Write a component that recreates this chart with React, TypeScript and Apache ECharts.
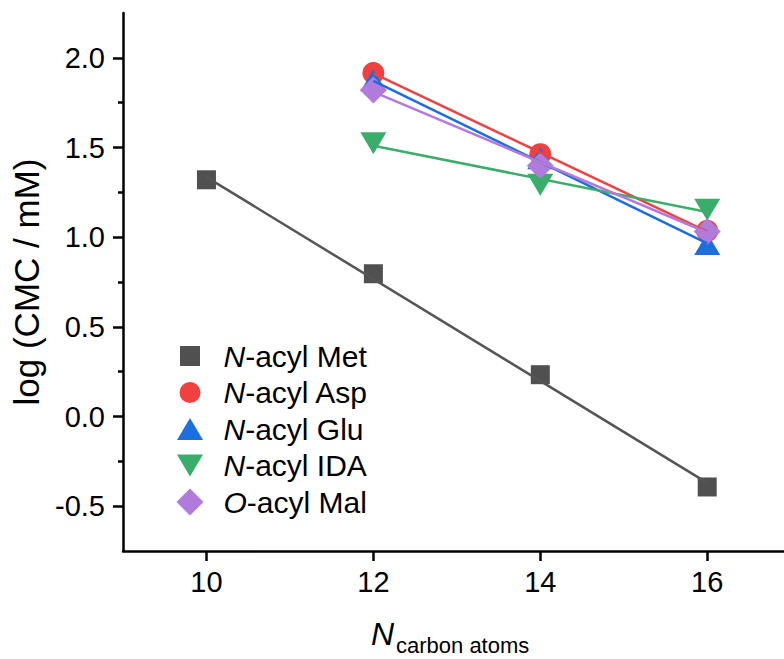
import React, { useEffect, useRef } from "react";
import * as echarts from "echarts";

// ---- data ----
const SERIES_NAMES = ["N-acyl Met", "N-acyl Asp", "N-acyl Glu", "N-acyl IDA", "O-acyl Mal"];
const X_MET = [10, 12, 14, 16];
const Y_MET = [1.32, 0.796, 0.233, -0.393];
const X_C = [12, 14, 16];
const Y_ASP = [1.915, 1.463, 1.035];
const Y_GLU = [1.875, 1.44, 0.962];
const Y_IDA = [1.524, 1.292, 1.153];
const Y_MAL = [1.82, 1.398, 1.032];
// linear-fit line end points [x0, y0, x1, y1]
const FIT_MET = [10, 1.335, 16, -0.37];
const FIT_ASP = [12, 1.913, 16, 1.031];
const FIT_GLU = [12, 1.872, 16, 0.966];
const FIT_IDA = [12, 1.51, 16, 1.14];
const FIT_MAL = [12, 1.81, 16, 1.026];
const X_TICKS = [10, 12, 14, 16];
const Y_TICKS = [-0.5, 0, 0.5, 1.0, 1.5, 2.0];
const Y_MINOR = [-0.25, 0.25, 0.75, 1.25, 1.75];

const COLORS = ["#505050", "#f04141", "#1b6fdf", "#39ad6a", "#b07bda"];
const LINE_COLORS = ["#555555", "#f04040", "#1a6ee0", "#3aae6a", "#b57ad9"];
const FONT = "'Liberation Sans', Arial, sans-serif";

const B = "M0,0M44,27";
const ICONS = [
  "path://" + B + "M3.5,3.5L23.5,3.5L23.5,23.5L3.5,23.5Z",
  "path://" + B + "M3,13.5A10.5,10.5 0 1 1 24,13.5A10.5,10.5 0 1 1 3,13.5Z",
  "path://" + B + "M0.5,24.5L13.5,2.5L26.5,24.5Z",
  "path://" + B + "M0.5,2.5L26.5,2.5L13.5,24.5Z",
  "path://" + B + "M13.5,0L27,13.5L13.5,27L0,13.5Z",
];

const zip = (xs: number[], ys: number[]) => xs.map((x, i) => [x, ys[i]]);
const fit = (f: number[]) => [[f[0], f[1]], [f[2], f[3]]];

export default function App() {
  const ref = useRef<HTMLDivElement>(null);
  useEffect(() => {
    if (!ref.current) return;
    const chart = echarts.init(ref.current, null, { renderer: "svg" });
    const scatterDefs = [
      { data: zip(X_MET, Y_MET), symbol: "rect", size: 19 as any, rotate: 0 },
      { data: zip(X_C, Y_ASP), symbol: "circle", size: 22 as any, rotate: 0 },
      { data: zip(X_C, Y_GLU), symbol: "triangle", size: [26, 22] as any, rotate: 0 },
      { data: zip(X_C, Y_IDA), symbol: "triangle", size: [26, 22] as any, rotate: 180 },
      { data: zip(X_C, Y_MAL), symbol: "diamond", size: 27 as any, rotate: 0 },
    ];
    const fits = [FIT_MET, FIT_ASP, FIT_GLU, FIT_IDA, FIT_MAL];
    const series: any[] = [];
    scatterDefs.forEach((d, i) => {
      series.push({
        type: "scatter",
        name: SERIES_NAMES[i],
        data: d.data,
        symbol: d.symbol,
        symbolSize: d.size,
        symbolRotate: d.rotate,
        itemStyle: { color: COLORS[i], opacity: 1 },
        z: 2 + i * 0.1,
      });
    });
    fits.forEach((f, i) => {
      series.push({
        type: "line",
        name: "fit " + SERIES_NAMES[i],
        data: fit(f),
        symbol: "none",
        lineStyle: { color: LINE_COLORS[i], width: 2.5 },
        z: 5,
      });
    });
    chart.setOption({
      animation: false,
      backgroundColor: "#ffffff",
      grid: { left: 123, top: 13, right: 0, height: 538 },
      xAxis: {
        type: "value",
        min: 9,
        max: 16.92,
        axisLine: { show: true, onZero: false, lineStyle: { color: "#000", width: 2.5 } },
        axisTick: { show: true, length: 10, customValues: X_TICKS, lineStyle: { color: "#000", width: 2.5 } },
        axisLabel: {
          customValues: X_TICKS,
          margin: 16,
          fontSize: 29,
          fontFamily: FONT,
          color: "#000",
        },
        splitLine: { show: false },
      },
      yAxis: [
        {
          type: "value",
          min: -0.75,
          max: 2.25,
          name: "log (CMC / mM)",
          nameLocation: "middle",
          nameGap: 78,
          nameTextStyle: { fontSize: 35, fontFamily: FONT, color: "#000" },
          axisLine: { show: true, onZero: false, lineStyle: { color: "#000", width: 2.5 } },
          axisTick: { show: true, length: 10, customValues: Y_TICKS, lineStyle: { color: "#000", width: 2.5 } },
          axisLabel: {
            customValues: Y_TICKS,
            margin: 18,
            fontSize: 29,
            fontFamily: FONT,
            color: "#000",
            formatter: (v: number) => v.toFixed(1),
          },
          splitLine: { show: false },
        },
        {
          type: "value",
          min: -0.75,
          max: 2.25,
          position: "left",
          axisLine: { show: false, onZero: false },
          axisTick: { show: true, length: 5, customValues: Y_MINOR, lineStyle: { color: "#000", width: 2.5 } },
          axisLabel: { show: false },
          splitLine: { show: false },
        },
      ],
      legend: {
        orient: "vertical",
        left: 176.5,
        top: 341,
        itemWidth: 44,
        itemHeight: 27,
        itemGap: 6.5,
        padding: 0,
        data: SERIES_NAMES.map((n, i) => ({ name: n, icon: ICONS[i], itemStyle: { color: COLORS[i] } })),
        formatter: (name: string) => name.replace(/^(N|O)-/, "{i|$1}-"),
        textStyle: {
          fontSize: 30,
          fontFamily: FONT,
          color: "#000",
          lineHeight: 27,
          padding: [0, 0, 0, -2],
          rich: {
            i: { fontSize: 30, fontFamily: FONT, fontStyle: "italic", color: "#000", lineHeight: 27 },
          },
        },
      },
      graphic: [
        {
          type: "text",
          left: 371,
          top: 618,
          style: { text: "N", fontSize: 32, fontStyle: "italic", fontFamily: FONT, fill: "#000" },
        },
        {
          type: "text",
          left: 396,
          top: 634,
          style: { text: "carbon atoms", fontSize: 22, fontFamily: FONT, fill: "#000" },
        },
      ],
      series,
    });
    return () => chart.dispose();
  }, []);
  return (
    <div
      ref={ref}
      style={{ position: "absolute", left: 0, top: 0, width: 784, height: 659 }}
    />
  );
}
